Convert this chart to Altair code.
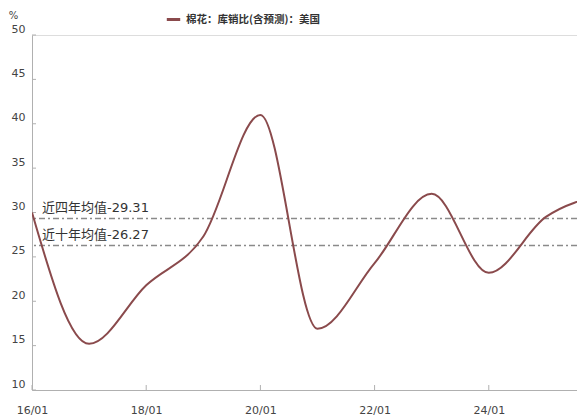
import altair as alt
import pandas as pd

# Data
years = [2016, 2017, 2018, 2019, 2020, 2021, 2022, 2023, 2024, 2025, 2026]
values = [30.0, 15.2, 21.8, 27.3, 41.0, 16.9, 24.3, 32.1, 23.2, 29.5, 32.0]
series_name = "棉花：库销比(含预测)：美国"

mean_labels = ["近四年均值-29.31", "近十年均值-26.27"]
mean_values = [29.31, 26.27]

tick_years = [2016, 2018, 2020, 2022, 2024]
tick_labels = ["16/01", "18/01", "20/01", "22/01", "24/01"]
y_ticks = [10, 15, 20, 25, 30, 35, 40, 45, 50]

W, H = 545, 355
FONT = "DejaVu Sans, Noto Sans CJK SC"
CJK = "Noto Sans CJK SC"
LINE_COLOR = "#8a4a4c"
AXIS_COLOR = "#b0b0b0"
LABEL_COLOR = "#444444"

df = pd.DataFrame({"year": years, "value": values, "series": series_name})
df_mean = pd.DataFrame({"label": mean_labels, "value": mean_values})
df_xt = pd.DataFrame({"year": tick_years})
df_yt = pd.DataFrame({"v": y_ticks})

label_expr = " : ".join(
    f"datum.value == {y} ? '{l}'" for y, l in zip(tick_years, tick_labels)
) + " : ''"

x_scale = alt.Scale(domain=[2016, 2025.545], nice=False, zero=False)
y_scale = alt.Scale(domain=[10, 50], nice=False, zero=False)

line = alt.Chart(df).mark_line(
    interpolate="monotone", strokeWidth=2, clip=True
).encode(
    x=alt.X("year:Q", scale=x_scale,
            axis=alt.Axis(values=tick_years, labelExpr=label_expr, title=None,
                          grid=False, ticks=False, domainColor=AXIS_COLOR,
                          labelColor=LABEL_COLOR, labelFont=FONT, labelFontSize=11,
                          labelPadding=14, labelFlush=False)),
    y=alt.Y("value:Q", scale=y_scale,
            axis=alt.Axis(values=y_ticks, title="%", titleAngle=0, titleX=-19,
                          titleY=-20, titleAlign="center", titleBaseline="middle",
                          titleFont=FONT, titleFontSize=10, titleFontWeight="normal",
                          titleColor=LABEL_COLOR, grid=False, ticks=False,
                          domainColor=AXIS_COLOR, labelColor=LABEL_COLOR,
                          labelFont=FONT, labelFontSize=11, labelPadding=7,
                          labelOffset=-6)),
    color=alt.Color("series:N",
                    scale=alt.Scale(domain=[series_name], range=[LINE_COLOR]),
                    legend=alt.Legend(title=None, orient="none", legendX=133,
                                      legendY=-24, symbolType="stroke",
                                      symbolStrokeWidth=3, symbolSize=180,
                                      labelFont=CJK, labelFontSize=10.5,
                                      labelFontWeight="bold",
                                      labelColor="#333333")),
)

mean_rules = alt.Chart(df_mean).mark_rule(
    color="#8a8a8a", strokeWidth=1.5, strokeDash=[6, 3, 2, 3]
).encode(y=alt.Y("value:Q", scale=y_scale))

mean_text = alt.Chart(df_mean).mark_text(
    align="left", baseline="middle", dy=-11, font=FONT, fontSize=13,
    color="#333333"
).encode(x=alt.value(10), y=alt.Y("value:Q", scale=y_scale), text="label:N")

x_ticks = alt.Chart(df_xt).mark_rule(color=AXIS_COLOR).encode(
    x=alt.X("year:Q", scale=x_scale), y=alt.value(H - 5), y2=alt.value(H)
)
y_tick_marks = alt.Chart(df_yt).mark_rule(color=AXIS_COLOR).encode(
    y=alt.Y("v:Q", scale=y_scale), x=alt.value(0), x2=alt.value(4)
)

chart = alt.layer(mean_rules, x_ticks, y_tick_marks, line, mean_text).properties(
    width=W, height=H,
    autosize=alt.AutoSizeParams(type="none"),
    padding={"left": 24, "top": 27, "right": 0, "bottom": 26},
).configure_view(stroke=None).configure(font=FONT)

chart.save("out.html", embed_options={"renderer": "svg", "actions": False})
